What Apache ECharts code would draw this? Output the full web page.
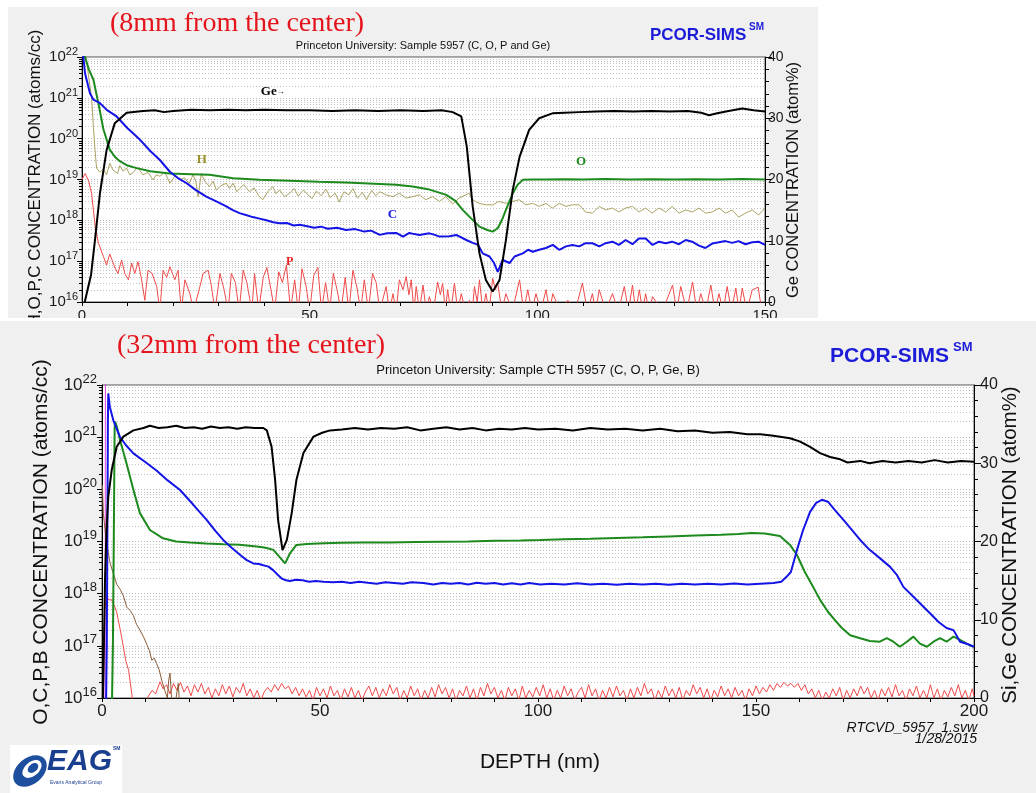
<!DOCTYPE html>
<html><head><meta charset="utf-8">
<script src="https://cdn.jsdelivr.net/npm/echarts@6/dist/echarts.min.js"></script>
<style>html,body{margin:0;padding:0;background:#fff}#c{width:1036px;height:793px}</style>
</head><body><div id="c"></div>
<script>
// ===== TOP PANEL (8 mm from the center), depth in nm =====
const topGe = [[0.6,0],[1.0,0.3],[2.0,4.5],[2.85,10.1],[3.95,17.8],[5.4,24.8],[7.2,29.2],[9.8,30.9],[13.4,31.2],[16,31.3],[18,31.0],[20,31.2],[24,31.4],[28,31.3],[32,31.4],[36,31.3],[40,31.4],[45,31.3],[50,31.3],[55,31.2],[60,31.3],[65,31.2],[70,31.3],[75,31.2],[79,31.3],[81.4,31.0],[83.3,30.3],[84.5,25.4],[85.8,15.6],[87.3,7.9],[88.7,3.6],[90.2,1.7],[91.7,3.6],[93.1,10.1],[94.6,18.3],[96.1,23.7],[98.2,28.1],[100.4,30.0],[103.3,30.8],[106,30.9],[109.2,31.0],[113,31.1],[117,31.2],[121,31.1],[125,31.2],[129,31.1],[133,31.2],[136,30.9],[137.7,30.5],[139.5,30.8],[142,31.2],[145,31.6],[147.5,31.3],[150,31.1]];
const topC = [[0,2e22],[0.3,1e22],[0.66,4e21],[1.75,1.3e21],[2.5,9e20],[3.95,7.4e20],[5.5,5e20],[7.6,3.5e20],[10,1.8e20],[12.7,9.5e19],[15,5e19],[17.1,3e19],[19.3,1.55e19],[21,1.1e19],[23,8.1e18],[25,5.5e18],[27.3,3.8e18],[29.5,2.9e18],[31.7,2.2e18],[33,1.8e18],[34.6,1.5e18],[36,1.35e18],[37.5,1.2e18],[39,1.1e18],[40.5,1.0e18],[42,9e17],[43.4,8.5e17],[45,8.6e17],[46.5,7.5e17],[47.8,7.8e17],[49.5,7.2e17],[51,6.6e17],[52.5,7e17],[54,6.2e17],[56,6.6e17],[58,5.8e17],[60,6.1e17],[62,5.3e17],[63.5,5.6e17],[65.4,4.4e17],[67,4.8e17],[69,4.9e17],[70.5,4e17],[71.9,4.9e17],[73,4.6e17],[74.1,4.4e17],[76.3,4.8e17],[77.5,4.4e17],[78.5,4e17],[80.7,4.1e17],[82.2,4.4e17],[84.4,3.3e17],[85.8,2.8e17],[87,2.5e17],[88,1.55e17],[89.5,1.3e17],[90.5,9e16],[91.3,5.5e16],[92.4,1.07e17],[93.9,9e16],[95,1.3e17],[96.8,1.55e17],[98,1.9e17],[99,1.7e17],[100.4,1.9e17],[101.9,2.1e17],[103.4,2.5e17],[104.8,1.9e17],[106.3,2.3e17],[107.7,2.5e17],[109.2,2.3e17],[110.6,2.75e17],[112.1,2.75e17],[113.6,2.3e17],[115,2.75e17],[116.5,3e17],[117.9,2.5e17],[119.4,3.3e17],[120.9,2.6e17],[122.3,3.6e17],[123.8,3.6e17],[125.3,2.5e17],[126.7,3e17],[128.2,2.75e17],[129.6,3e17],[131.1,2.6e17],[132.6,3.3e17],[134,3e17],[135.5,2.4e17],[136.9,2.1e17],[138.4,2.7e17],[139.9,2.9e17],[141.3,3.1e17],[142.8,2.8e17],[144.2,3.1e17],[145.7,2.6e17],[147.2,2.9e17],[148.6,3e17],[150,2.5e17]];
const topO = [[0,3e22],[0.66,1e22],[1.5,5e21],[2.5,2.8e21],[3.6,7.4e20],[4.7,1.7e20],[6.1,5.4e19],[7.2,3.6e19],[8.3,2.8e19],[10,2.2e19],[12,1.9e19],[15,1.6e19],[19.3,1.4e19],[24,1.35e19],[28,1.3e19],[33.2,1.07e19],[39,9.8e18],[45.6,9.3e18],[52,8.8e18],[58,8.4e18],[65.4,7.8e18],[69,7.4e18],[72.6,6.7e18],[76,5.8e18],[80,4.2e18],[82,3e18],[83.6,1.8e18],[85.5,1.1e18],[87.3,7e17],[89,5.8e17],[90.2,5.3e17],[91.3,6.4e17],[92.2,1e18],[93.1,1.8e18],[94.6,4.6e18],[95.7,7.5e18],[96.8,9.8e18],[99,1.0e19],[101.9,1.0e19],[106,1.02e19],[110,1.0e19],[115,1.03e19],[120,1.0e19],[125,1.02e19],[130,1.0e19],[135,1.02e19],[140,1.0e19],[145,1.03e19],[150,1.0e19]];
const topH = [[0.9,1e22],[1.5,3e21],[2.1,1.07e21],[2.5,2e20],[2.85,5.4e19],[3.2,1.9e19],[3.95,1.5e19],[4.7,1.8e19],[5.4,1.3e19],[6.1,2.5e19],[6.8,1.7e19],[7.2,1.9e19],[7.8,1.4e19],[8.3,2.2e19],[9,1.6e19],[9.8,1.9e19],[10.5,1.3e19],[11.3,1.5e19],[12.2,2e19],[13.4,1.3e19],[14.5,1.5e19],[15.6,9.8e18],[16.3,1.3e19],[17.1,1.2e19],[18.2,1.5e19],[19.3,8.1e18],[20.4,1.2e19],[21.5,9.8e18],[22.5,1.1e19],[23.5,8e18],[24.4,1.3e19],[25,9e18],[25.5,3.8e18],[26.2,1.4e19],[27,9e18],[28,6.7e18],[28.8,9e18],[29.5,5.5e18],[30.5,7e18],[31.7,8.1e18],[32.4,6e18],[33.2,8.1e18],[34,5e18],[34.6,6e18],[35.5,7.5e18],[36.8,5e18],[37.8,6.2e18],[38.8,4e18],[39.7,3.2e18],[40.8,5e18],[41.9,6.7e18],[42.6,4.5e18],[43.4,5.5e18],[44.5,3.8e18],[45.6,4.6e18],[46.6,6e18],[47.5,3.9e18],[48.6,5.5e18],[49.5,4.4e18],[50.5,3.4e18],[51.5,5.2e18],[52.5,4e18],[53.6,5.8e18],[54.5,3.6e18],[55.6,4.6e18],[56.5,2.8e18],[57.5,5e18],[58.6,4.2e18],[59.5,6e18],[60.5,3.5e18],[61.6,4.8e18],[62.5,3.2e18],[63.6,5.4e18],[64.5,4e18],[65.4,5.0e18],[66.8,4.2e18],[68.3,3.8e18],[69.7,4.6e18],[71.2,3.5e18],[72.6,3.8e18],[74.1,4.2e18],[75.5,3.2e18],[77,3.8e18],[78.5,2.9e18],[79.9,3.8e18],[81.4,2.5e18],[82.8,3.5e18],[84.3,4.2e18],[85,4.6e18],[85.8,3.2e18],[87.2,2.6e18],[88.7,2.4e18],[90.2,2.4e18],[91.6,2.9e18],[93.1,2.6e18],[94.6,2.9e18],[96,3.2e18],[97.5,2.4e18],[99,2.6e18],[100.4,2.2e18],[101.9,2.6e18],[103.3,2.0e18],[104.8,2.6e18],[106.3,2.2e18],[107.7,2.4e18],[109.2,2.4e18],[110.6,1.6e18],[112.1,1.5e18],[113.6,2.2e18],[115,1.8e18],[116.5,2.0e18],[117.9,1.6e18],[119.4,2.0e18],[120.9,2.2e18],[122.3,1.6e18],[123.8,2.0e18],[125.2,1.5e18],[126.7,2.0e18],[128.2,1.6e18],[129.6,2.2e18],[131.1,1.5e18],[132.6,1.8e18],[134,1.6e18],[135.5,2.0e18],[136.9,1.5e18],[138.4,1.6e18],[139.9,2.0e18],[141.3,1.5e18],[142.8,1.8e18],[144.2,1.2e18],[145.7,1.5e18],[147.2,1.8e18],[148.6,1.35e18],[150,2.0e18]];
const topP = [[0,1.0e19],[0.7,1.4e19],[1.5,9e18],[2.1,4.6e18],[2.9,7e17],[3.6,2.8e17],[4.7,1.3e17],[5.4,8e16],[6.1,1.5e17],[7.2,7e16],[7.9,5e16],[8.7,1.07e17],[9.4,5e16],[10.2,3.5e16],[10.9,9e16],[11.6,5e16],[12.3,9.7e16],[13,4e16],[13.8,1.1e16],[14.5,6e16],[15.4,5e16],[16.4,2.4e16],[17.1,6e15],[17.8,6e16],[18.6,4e16],[19.3,7.3e16],[20.4,3.5e16],[21.1,6e16],[21.8,6e15],[22.6,3.5e16],[23.7,1.6e16],[24.5,6e15],[25.9,2.4e16],[26.6,5e16],[27.7,6e16],[28.4,2.5e16],[29.2,6e15],[30.3,5e16],[31.2,2e16],[32.1,6e15],[32.8,5e16],[33.7,3e16],[34.5,6e15],[35.4,6e16],[36.2,3e16],[37.3,6e15],[37.9,5e16],[38.8,6e15],[39.8,4e16],[40.6,7e16],[41.5,2e16],[42.3,6e15],[43.2,5.5e16],[44,3e16],[44.9,8e16],[45.8,6e15],[46.7,3.5e16],[47.5,6e15],[48.3,6.5e16],[49.2,2.5e16],[50,6e15],[50.9,4.5e16],[51.8,7e16],[52.6,6e15],[53.5,3e16],[54.4,6e15],[55.2,5e16],[56,2e16],[56.9,6e15],[57.8,4e16],[58.6,6e15],[59.5,6e16],[60.4,2.2e16],[61.2,6e15],[62,3.5e16],[62.9,6e15],[63.8,5e16],[64.6,3e16],[65.4,6e15],[66.8,2.4e16],[67.5,6e15],[68.3,1.6e16],[69,6e15],[69.7,3.5e16],[70.5,2e16],[71.2,4.2e16],[71.8,1.5e16],[72.3,3.5e16],[72.9,6e15],[73.4,2.4e16],[74.1,6e15],[74.9,2.6e16],[75.6,6e15],[76.3,1.35e16],[77.2,6e15],[78.1,3.1e16],[78.7,1.5e16],[79.2,2.9e16],[79.8,6e15],[80.3,2e16],[81,6e15],[81.8,2.9e16],[82.5,6e15],[83.3,1.6e16],[84.2,6e15],[85.1,1.1e16],[85.7,6e15],[86.2,2.4e16],[86.8,1e16],[87.3,3.5e16],[88,6e15],[88.7,1.6e16],[89.4,6e15],[90.2,3.8e16],[90.8,2e16],[91.3,2.9e16],[92.2,6e15],[93.1,1.6e16],[94.5,6e15],[96.1,3.5e16],[97,6e15],[97.9,2e16],[98.8,6e15],[99.7,1.6e16],[100.8,6e15],[101.9,2e16],[102.7,6e15],[103.4,1.6e16],[105,6e15],[106.7,1.1e16],[108.3,6e15],[109.9,2.9e16],[111,6e15],[112.1,1.6e16],[112.8,6e15],[113.6,2e16],[115,6e15],[116.5,1.6e16],[117.8,6e15],[119.1,2.4e16],[120,6e15],[120.9,2.6e16],[121.6,6e15],[122.4,2e16],[123.1,6e15],[123.8,1.6e16],[124.5,6e15],[125.3,1.35e16],[127.5,6e15],[129.7,2.6e16],[130.6,6e15],[131.5,2.4e16],[132.8,6e15],[134.1,3.1e16],[135,6e15],[135.9,1.6e16],[137,6e15],[138.1,2.6e16],[139,6e15],[139.9,1.6e16],[140.8,6e15],[141.7,2.4e16],[142.6,6e15],[143.6,2.2e16],[144.3,6e15],[145,2.2e16],[146,6e15],[147.2,2e16],[148.5,2.3e16],[149.3,6e15],[150,6e15]];

// ===== BOTTOM PANEL (32 mm from the center) =====
const botGe = [[0.2,0],[0.3,2.3],[0.69,15.1],[1.0,21],[1.44,25.7],[2.22,29.1],[3.37,32.1],[4.9,33.4],[7.2,34.2],[9.5,34.5],[11,34.8],[13,34.5],[15,34.6],[17,34.8],[19,34.5],[21,34.6],[23,34.4],[25,34.7],[27,34.5],[29,34.6],[31,34.4],[33,34.6],[35,34.5],[37,34.5],[37.8,34.2],[38.9,32.1],[39.7,27.9],[40.4,22.7],[41.4,18.9],[42.4,20.2],[43.5,23.6],[44.6,27.9],[46.2,31.3],[48.5,33.4],[50.5,33.9],[52.3,34.2],[55,34.3],[58,34.5],[61,34.3],[64,34.5],[67,34.4],[70,34.6],[73,34.2],[76,34.4],[79,34.6],[82,34.3],[85,34.5],[88,34.2],[91,34.4],[94,34.3],[97,34.5],[100,34.3],[104,34.4],[108,34.2],[112,34.5],[116,34.3],[120,34.4],[124,34.2],[128,34.4],[132,34.1],[136,34.2],[140,33.9],[144,34.0],[148,33.7],[151,33.7],[154,33.5],[157.8,33.2],[160,32.8],[162.4,32.1],[164.7,31.3],[167,30.8],[169.3,30.5],[171,30.1],[173.9,30.3],[176,30.0],[179,30.3],[182,30.1],[185,30.3],[188,30.1],[191,30.4],[194,30.1],[197,30.3],[200,30.2]];
const botC = [[0.9,5e15],[1.1,1e17],[1.25,3e19],[1.35,2e21],[1.44,6.9e21],[1.8,3.8e21],[2.6,2.1e21],[4.1,1.02e21],[5.5,7e20],[7.2,4.9e20],[10,3.3e20],[12.5,2.3e20],[15,1.5e20],[17.9,9.7e19],[21,5e19],[24,2.6e19],[26,1.6e19],[27.8,1.07e19],[29.8,7.5e18],[31.7,5.5e18],[33.2,4.4e18],[34.7,3.8e18],[36,3.7e18],[37,3.5e18],[38.2,3.3e18],[39.3,2.8e18],[40.3,2.3e18],[41.2,1.95e18],[42.2,1.8e18],[43.1,1.75e18],[44.5,1.85e18],[46,1.8e18],[47.5,1.7e18],[49,1.75e18],[50.8,1.7e18],[53,1.65e18],[55,1.7e18],[57,1.6e18],[59,1.7e18],[61,1.62e18],[63,1.55e18],[65,1.65e18],[67,1.6e18],[69,1.55e18],[71,1.65e18],[73.7,1.6e18],[76,1.5e18],[78,1.6e18],[80,1.55e18],[82,1.6e18],[84,1.5e18],[86,1.62e18],[88,1.55e18],[90,1.6e18],[92,1.5e18],[94,1.58e18],[96,1.5e18],[98,1.6e18],[100.5,1.5e18],[103,1.55e18],[106,1.5e18],[109,1.58e18],[112,1.5e18],[115,1.55e18],[118,1.48e18],[121,1.55e18],[124,1.5e18],[127,1.55e18],[130,1.48e18],[133,1.55e18],[136,1.5e18],[139,1.55e18],[142,1.5e18],[145,1.57e18],[148,1.5e18],[151,1.55e18],[154,1.6e18],[155.8,1.7e18],[157,2.1e18],[158,2.6e18],[159.4,6.9e18],[160.8,1.66e19],[162.4,3.7e19],[163.8,5.5e19],[165.1,6.3e19],[166.5,5.8e19],[168.1,4e19],[170.4,2.4e19],[173.9,1.07e19],[176,7e18],[178.4,4.8e18],[180.7,3.3e18],[182.3,2.3e18],[183.8,1.35e18],[186.1,8.7e17],[188.4,5.6e17],[190.7,3.6e17],[191.8,2.9e17],[193.7,2.2e17],[195.3,2e17],[196.8,1.2e17],[198.3,1.1e17],[200,9.6e16]];
const botO = [[2.25,5e15],[2.5,1e17],[2.7,1e19],[2.9,1.5e21],[3.0,2e21],[3.4,1.6e21],[4.1,9e20],[5.6,3.2e20],[7.2,9.8e19],[8.7,3.5e19],[11,1.66e19],[14,1.15e19],[17,1.0e19],[20.2,9.6e18],[24,9.2e18],[27.8,8.9e18],[31.5,8.7e18],[35.5,8e18],[37.5,7.6e18],[39.3,6.9e18],[40.6,5.2e18],[42,3.8e18],[43.1,5.9e18],[44.6,8.6e18],[47,9e18],[50.8,9.3e18],[55,9.5e18],[60,9.6e18],[66,9.6e18],[72,9.8e18],[78,9.9e18],[84,1.0e19],[90,1.03e19],[96,1.05e19],[100.5,1.07e19],[106,1.1e19],[112,1.13e19],[118,1.17e19],[124,1.2e19],[130,1.25e19],[136,1.3e19],[142,1.35e19],[146,1.4e19],[149,1.45e19],[152,1.42e19],[155.5,1.27e19],[157.8,8.6e18],[159.4,5.5e18],[161.2,2.6e18],[162.8,1.5e18],[164.7,7.6e17],[166.5,4.5e17],[168.1,3.1e17],[169.7,2.2e17],[171.6,1.6e17],[173.9,1.4e17],[176.1,1.24e17],[178.4,1.2e17],[180,1.4e17],[181.5,1.2e17],[183,9.6e16],[184.6,1.2e17],[186.1,1.5e17],[187.6,1.1e17],[189.2,9.6e16],[190.7,1.2e17],[192.2,1.4e17],[193.7,1.2e17],[195.3,1.5e17],[196.8,1.3e17],[198.3,1.1e17],[199.8,9.6e16]];
const botP = [[0.3,1e16],[0.6,5e17],[1.1,8.7e17],[1.6,7.6e17],[2.2,7.6e17],[2.8,6e17],[3.4,4.3e17],[4.2,2e17],[4.9,9.6e16],[5.5,5e16],[6.1,3.4e16],[6.4,2.2e16],[6.9,1.1e16],[7.2,5e15],[10.2,5e15],[10.5,1.04e16],[11.5,1.4e16],[12.3,1.2e16],[13.3,2.05e16],[14,1.5e16],[14.8,1.8e16],[15.6,1.2e16],[16.4,1.9e16],[17.2,1.4e16],[18,2e16],[18.8,1.3e16],[19.6,1.7e16],[20.4,1.1e16],[21.2,1.8e16],[22,1.3e16],[22.8,1.9e16],[23.6,1.2e16],[24.4,1.6e16],[25.2,1.0e16],[26,1.5e16],[26.8,1.1e16],[27.6,1.8e16],[28.4,1.2e16],[29.2,1.7e16],[30,1.05e16],[30.8,1.6e16],[31.6,1.25e16],[32.4,1.9e16],[33.2,1.1e16],[34,1.5e16],[34.8,1.0e16],[35.6,1.4e16],[36.4,9e15],[37.2,1.3e16],[38,1.6e16],[38.8,1.3e16],[39.6,1.8e16],[40.4,1.4e16],[41.2,1.9e16],[42,1.5e16],[42.8,1.7e16],[43.6,1.2e16],[44.4,1.6e16],[45.2,1.1e16],[46,1.5e16],[46.8,1.05e16],[47.6,1.4e16],[48.4,9e15],[49.2,1.6e16],[50,1.1e16],[50.8,1.5e16],[51.6,1.0e16],[52.4,1.7e16],[53.2,1.1e16],[54,1.4e16],[54.8,9e15],[55.6,1.5e16],[56.4,1.05e16],[57.2,1.6e16],[58,1.0e16],[58.8,1.4e16],[59.6,9e15],[60.4,1.3e16],[61.2,1.7e16],[62,1.1e16],[62.8,1.6e16],[63.6,1.0e16],[64.4,1.5e16],[65.2,1.1e16],[66,1.8e16],[66.8,1.2e16],[67.6,1.6e16],[68.4,9e15],[69.2,1.4e16],[70,1.0e16],[70.8,1.7e16],[71.6,1.1e16],[72.4,1.5e16],[73.2,9e15],[74,1.4e16],[74.8,1.0e16],[75.6,1.6e16],[76.4,1.05e16],[77.2,1.8e16],[78,1.2e16],[78.8,1.6e16],[79.6,1.0e16],[80.4,1.5e16],[81.2,9e15],[82,1.4e16],[82.8,1.1e16],[83.6,1.7e16],[84.4,1.0e16],[85.2,1.5e16],[86,9e15],[86.8,1.6e16],[87.6,1.1e16],[88.4,1.9e16],[89.2,1.2e16],[90,1.6e16],[90.8,1.0e16],[91.6,1.4e16],[92.4,9e15],[93.2,1.6e16],[94,1.1e16],[94.8,1.5e16],[95.6,9e15],[96.4,1.7e16],[97.2,1.0e16],[98,1.4e16],[98.8,1.05e16],[99.6,1.6e16],[100.4,1.1e16],[101.2,1.8e16],[102,1.0e16],[102.8,1.5e16],[103.6,9e15],[104.4,1.4e16],[105.2,1.0e16],[106,1.7e16],[106.8,1.1e16],[107.6,1.5e16],[108.4,9e15],[109.2,1.3e16],[110,1.6e16],[110.8,1.0e16],[111.6,1.8e16],[112.4,1.1e16],[113.2,1.5e16],[114,9e15],[114.8,1.4e16],[115.6,1.0e16],[116.4,1.6e16],[117.2,1.05e16],[118,1.7e16],[118.8,1.1e16],[119.6,1.4e16],[120.4,9e15],[121.2,1.5e16],[122,1.0e16],[122.8,1.6e16],[123.6,1.1e16],[124.4,1.9e16],[125.2,1.2e16],[126,1.5e16],[126.8,9e15],[127.6,1.4e16],[128.4,1.0e16],[129.2,1.7e16],[130,1.1e16],[130.8,1.5e16],[131.6,1.0e16],[132.4,1.6e16],[133.2,9e15],[134,1.4e16],[134.8,1.1e16],[135.6,1.8e16],[136.4,1.2e16],[137.2,1.6e16],[138,1.0e16],[138.8,1.5e16],[139.6,9e15],[140.4,1.4e16],[141.2,1.05e16],[142,1.7e16],[142.8,1.1e16],[143.6,1.5e16],[144.4,1.0e16],[145.2,1.6e16],[146,1.1e16],[146.8,1.4e16],[147.6,9e15],[148.4,1.5e16],[149.2,1.1e16],[150,1.7e16],[150.8,1.2e16],[151.6,1.6e16],[152.4,1.3e16],[153.2,1.8e16],[154,1.4e16],[154.8,1.9e16],[155.6,1.6e16],[156.4,2e16],[157.2,1.7e16],[158,1.9e16],[158.8,1.6e16],[159.6,1.9e16],[160.4,1.4e16],[161.2,1.8e16],[162,1.2e16],[162.8,1.5e16],[163.6,1.0e16],[164.4,1.4e16],[165.2,9e15],[166,1.3e16],[166.8,1.0e16],[167.6,1.5e16],[168.4,1.1e16],[169.2,1.6e16],[170,9e15],[170.8,1.4e16],[171.6,1.0e16],[172.4,1.5e16],[173.2,1.1e16],[174,1.7e16],[174.8,1.2e16],[175.6,1.6e16],[176.4,1.0e16],[177.2,1.4e16],[178,9e15],[178.8,1.5e16],[179.6,1.1e16],[180.4,1.6e16],[181.2,1.05e16],[182,1.8e16],[182.8,1.1e16],[183.6,1.4e16],[184.4,9e15],[185.2,1.5e16],[186,1.1e16],[186.8,1.7e16],[187.6,1.0e16],[188.4,1.4e16],[189.2,1.0e16],[190,1.8e16],[190.8,1.0e16],[191.6,1.5e16],[192.4,9e15],[193.2,1.4e16],[194,1.05e16],[194.8,1.6e16],[195.6,1.1e16],[196.4,1.8e16],[197.2,1.0e16],[198,1.4e16],[198.8,9e15],[199.6,1.5e16],[200,1.1e16]];
const botB = [[0.1,1.2e20],[0.3,3.5e19],[0.9,1.2e19],[1.8,4e18],[2.5,2.6e18],[3.4,1.5e18],[4.2,1.2e18],[4.9,9e17],[5.7,5.5e17],[6.4,4.8e17],[7.2,3.8e17],[7.9,2.6e17],[8.7,2e17],[9.5,1.5e17],[10.3,1.05e17],[10.9,8e16],[11.4,5.3e16],[12,5.8e16],[12.5,4.6e16],[13.1,3.5e16],[13.7,2.2e16],[14.4,1.4e16],[15.0,1.0e16],[15.3,2.2e16],[15.6,3e16],[15.9,1.2e16],[16.3,5e15],[16.9,9e15],[17.5,1.9e16],[17.9,5e15]];
const botSi = [[0.7,0],[0.9,100],[1.1,100]];

// axis decoration values
const logDecades = [16,17,18,19,20,21];
const logMantissas = [2,3,4,5,6,7,8,9];

const FS = '"Liberation Sans", Arial, sans-serif';
const FSERIF = '"Liberation Serif", "Times New Roman", serif';
const COL = {Ge:'#000000', O:'#1d8a1d', C:'#1414e6', H:'#aaa262', P:'#ef4a4a', B:'#8a5a35', Si:'#e040e0'};

const minorVals = [];
logDecades.forEach(d => logMantissas.forEach(m => minorVals.push(m * Math.pow(10, d))));

function expFmt(v){ return '{b|10}{s|' + Math.round(Math.log10(v)) + '}'; }

function line(name, data, color, width, xi, yi, z, mp){
  const s = {type:'line', name, data, xAxisIndex:xi, yAxisIndex:yi, showSymbol:false, symbol:'none',
    lineStyle:{color, width}, itemStyle:{color}, z, animation:false, silent:true, clip:true};
  if (mp) s.markPoint = {symbol:'circle', symbolSize:0, silent:true, animation:false, data: mp};
  return s;
}
function tag(text, coord, color, size){
  return {coord, label:{show:true, position:'inside', formatter:text, color, fontSize:size, fontWeight:'bold', fontFamily:FSERIF,
    rich:{a:{fontSize:size, fontWeight:'bold', fontFamily:FSERIF, color}, r:{fontSize:Math.round(size*0.6), color}}}};
}
function gridSeries(xi, yi, xMin, xMax, z){
  return {type:'custom', xAxisIndex:xi, yAxisIndex:yi, z, silent:true, animation:false, clip:false,
    data: minorVals.map(v => [xMin, v]),
    renderItem: (params, api) => {
      const v = api.value(1);
      const a = api.coord([xMin, v]), b = api.coord([xMax, v]);
      const y = Math.round(a[1]) + 0.5;
      return {type:'group', children:[
        {type:'line', shape:{x1:a[0], y1:y, x2:b[0], y2:y}, style:{stroke:'#c2c2c2', lineWidth:1, lineDash:[1,2]}},
        {type:'line', shape:{x1:a[0]-3, y1:y, x2:a[0], y2:y}, style:{stroke:'#000', lineWidth:1}}
      ]};
    }};
}
function xAx(gi, max, z, fs, margin){
  return {gridIndex:gi, type:'value', min:0, max, interval:50, z,
    axisLine:{show:true, onZero:false, lineStyle:{color:'#000', width:1}},
    axisTick:{show:true, length:4, lineStyle:{color:'#000'}},
    minorTick:{show:true, splitNumber:5, length:4, lineStyle:{color:'#000'}},
    axisLabel:{fontSize:fs, margin, color:'#1a1a1a', fontFamily:FS},
    splitLine:{show:false}, minorSplitLine:{show:false}};
}
function yLog(gi, z, bf, sf, pad, margin){
  return {gridIndex:gi, type:'log', logBase:10, min:1e16, max:1e22, splitNumber:6, position:'left', z,
    axisLine:{show:true, onZero:false, lineStyle:{color:'#000', width:1}},
    axisTick:{show:true, length:5, lineStyle:{color:'#000'}},
    axisLabel:{margin, formatter:expFmt, color:'#1a1a1a',
      rich:{b:{fontSize:bf, fontFamily:FS, color:'#1a1a1a'}, s:{fontSize:sf, fontFamily:FS, color:'#1a1a1a', verticalAlign:'top', padding:[0,0,pad,0]}}},
    splitLine:{show:true, lineStyle:{color:'#b8b8b8', width:1, type:[1,2]}}};
}
function yRight(gi, z, fs, margin){
  return {gridIndex:gi, type:'value', min:0, max:40, interval:10, position:'right', z,
    axisLine:{show:true, onZero:false, lineStyle:{color:'#000', width:1}},
    axisTick:{show:true, length:7, lineStyle:{color:'#000'}},
    minorTick:{show:true, splitNumber:5, length:4, lineStyle:{color:'#000'}},
    axisLabel:{fontSize:fs, margin, color:'#1a1a1a', fontFamily:FS},
    splitLine:{show:false}, minorSplitLine:{show:false}};
}
function txt(text, x, y, font, fill, align, valign, z, rot){
  const e = {type:'text', x, y, z, silent:true,
    style:{text, font, fill, textAlign:align, textVerticalAlign:valign, align, verticalAlign:valign}};
  if (rot) e.rotation = rot;
  return e;
}
const R = Math.PI/2;

const option = {
  animation:false,
  backgroundColor:'#ffffff',
  grid:[
    {left:82, top:57, width:683, height:245, show:true, backgroundColor:'#ffffff', borderColor:'#555', borderWidth:1, z:2, outerBoundsMode:'none', containLabel:false},
    {left:102, top:385, width:872, height:313, show:true, backgroundColor:'#ffffff', borderColor:'#555', borderWidth:1, z:6, outerBoundsMode:'none', containLabel:false}
  ],
  xAxis:[ xAx(0, 150, 3, 15, 6), xAx(1, 200, 7, 17, 5) ],
  yAxis:[ yLog(0, 3, 15, 11, 10, 4), yRight(0, 3, 14, 3), yLog(1, 7, 17, 13, 12, 5), yRight(1, 7, 16, 6) ],
  graphic:{elements:[
    {type:'rect', shape:{x:8, y:7, width:810, height:311}, style:{fill:'#f0f0f0'}, z:1, silent:true},
    txt('H,O,P,C CONCENTRATION (atoms/cc)', 35, 178, '17px '+FS, '#111', 'center', 'middle', 3, R),
    txt('Ge CONCENTRATION (atom%)', 793, 180, '16.5px '+FS, '#111', 'center', 'middle', 3, R),
    {type:'rect', shape:{x:0, y:318, width:1036, height:3}, style:{fill:'#ffffff'}, z:5, silent:true},
    {type:'rect', shape:{x:0, y:321, width:1036, height:472}, style:{fill:'#f0f0f0'}, z:5, silent:true},
    txt('(8mm from the center)', 237, 24, '28px '+FSERIF, '#e5141c', 'center', 'middle', 9),
    txt('Princeton University: Sample 5957 (C, O, P and Ge)', 423, 46, '11px '+FS, '#111', 'center', 'middle', 9),
    txt('PCOR-SIMS', 650, 35, 'bold 17px '+FS, '#1c1cd8', 'left', 'middle', 9),
    txt('SM', 749, 27, 'bold 10px '+FS, '#1c1cd8', 'left', 'middle', 9),
    txt('(32mm from the center)', 251, 346, '28px '+FSERIF, '#e5141c', 'center', 'middle', 9),
    txt('Princeton University: Sample CTH 5957 (C, O, P, Ge, B)', 538, 370, '13px '+FS, '#111', 'center', 'middle', 9),
    txt('PCOR-SIMS', 830, 356, 'bold 21px '+FS, '#1c1cd8', 'left', 'middle', 9),
    txt('SM', 953, 347, 'bold 13px '+FS, '#1c1cd8', 'left', 'middle', 9),
    txt('O,C,P,B CONCENTRATION (atoms/cc)', 41, 542, '21px '+FS, '#111', 'center', 'middle', 9, R),
    txt('Si,Ge CONCENTRATION (atom%)', 1010, 545, '20.5px '+FS, '#111', 'center', 'middle', 9, R),
    txt('DEPTH (nm)', 540, 762, '21px '+FS, '#111', 'center', 'middle', 9),
    txt('RTCVD_5957_1.svw', 977, 728, 'italic 14px '+FS, '#111', 'right', 'middle', 9),
    txt('1/28/2015', 977, 739, 'italic 14px '+FS, '#111', 'right', 'middle', 9),
    {type:'rect', shape:{x:10, y:745, width:112, height:48}, style:{fill:'#ffffff'}, z:9, silent:true},
    {type:'ellipse', shape:{cx:0, cy:0, rx:19, ry:13}, x:30, y:771, rotation:0.7, style:{fill:'#1d4f9e'}, z:10, silent:true},
    {type:'ellipse', shape:{cx:0, cy:0, rx:11, ry:7}, x:32, y:769, rotation:0.7, style:{fill:'#ffffff'}, z:10, silent:true},
    {type:'ellipse', shape:{cx:0, cy:0, rx:6, ry:4}, x:33, y:768, rotation:0.7, style:{fill:'#1d4f9e'}, z:10, silent:true},
    txt('EAG', 47, 762, 'italic bold 30px '+FS, '#1b3f8f', 'left', 'middle', 10),
    txt('Evans Analytical Group', 50, 783, '5px '+FS, '#1b3f8f', 'left', 'middle', 10),
    txt('SM', 113, 749, 'bold 5px '+FS, '#1b3f8f', 'left', 'middle', 10)
  ]},
  series:[
    gridSeries(0, 0, 0, 150, 3),
    line('P', topP, COL.P, 1, 0, 0, 4, [tag('P', [45.6, 9.6e16], '#ee1c1c', 12)]),
    line('H', topH, COL.H, 1, 0, 0, 4, [tag('H', [26.3, 3e19], '#9b8f2a', 13)]),
    line('O', topO, COL.O, 2, 0, 0, 4, [tag('O', [109.6, 2.7e19], '#1d8a1d', 13)]),
    line('C', topC, COL.C, 2, 0, 0, 4, [tag('C', [68.2, 1.35e18], '#1a1ae0', 13)]),
    line('Ge', topGe, COL.Ge, 2, 0, 1, 4, [tag('{a|Ge}{r|→}', [41.9, 34.3], '#000', 13)]),
    gridSeries(1, 2, 0, 200, 7),
    line('Si', botSi, COL.Si, 1, 1, 3, 8),
    line('P', botP, COL.P, 1, 1, 2, 8, [tag('P', [24.1, 4.1e16], '#ee1c1c', 16)]),
    line('B', botB, COL.B, 1, 1, 2, 8, [tag('B', [17, 8.3e16], '#8a5a35', 16)]),
    line('O', botO, COL.O, 2, 1, 2, 8, [tag('O', [63.5, 2.3e19], '#1d8a1d', 17)]),
    line('C', botC, COL.C, 2, 1, 2, 8, [tag('C', [180.3, 4.2e19], '#1a1ae0', 17)]),
    line('Ge', botGe, COL.Ge, 2, 1, 3, 8, [tag('{a|Ge}{r|→}', [81, 31.1], '#000', 16)])
  ]
};
const chart = echarts.init(document.getElementById('c'), null, {renderer:'canvas'});
chart.setOption(option);
</script></body></html>
